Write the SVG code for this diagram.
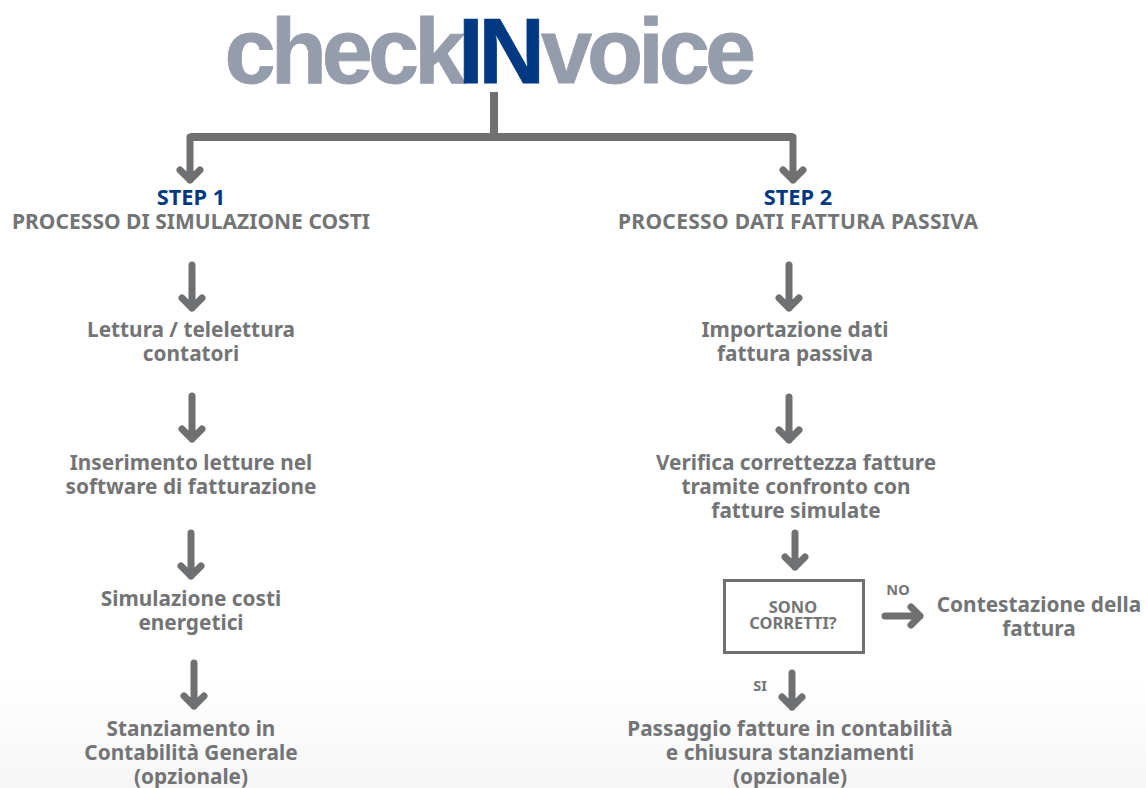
<svg xmlns="http://www.w3.org/2000/svg" width="1146" height="788" viewBox="0 0 1146 788">
<style>
text{font-family:"Noto Sans","Open Sans","Liberation Sans",sans-serif;font-weight:700;text-anchor:middle;fill:#737476}
.m{font-size:20.8px}
.s{font-size:16.4px}
.l{font-size:14.5px}
.h{font-size:21px}
.st{fill:#003882;font-size:21.8px}
.logo{font-family:"Liberation Sans",Arial,sans-serif;font-size:92px;text-anchor:start;fill:#959cab;stroke:#959cab;stroke-width:.8px;letter-spacing:-5px}
.in{fill:#003882;stroke:#003882}
.a{fill:none;stroke:#6f7072;stroke-width:7;stroke-linecap:round;stroke-linejoin:round}
</style>
<defs>
<linearGradient id="bg" x1="0" y1="0" x2="0" y2="1"><stop offset="0" stop-color="#ffffff"/><stop offset="1" stop-color="#f6f6f6"/></linearGradient>
<path id="d" d="M0,0V43M-10,33L0,43L10,33"/>
<path id="ds" d="M0,0V34M-10,24L0,34L10,24"/>
</defs>
<rect x="0" y="680" width="1146" height="108" fill="url(#bg)"/>
<g id="logo">
<text class="logo" x="224.5" y="83">check<tspan class="in" dx="-2.5">IN</tspan><tspan dx="1">voice</tspan></text>
</g>
<g id="connectors">
<path d="M494,92V137M190,137H793" fill="none" stroke="#6f7072" stroke-width="8"/>
<path d="M190,137V180M180,170L190,180L200,170M793,137V180M783,170L793,180L803,170" class="a"/>
<use href="#d" x="192" y="265" class="a"/>
<use href="#d" x="192" y="396" class="a"/>
<use href="#d" x="191" y="533" class="a"/>
<use href="#d" x="194" y="663" class="a"/>
<use href="#d" x="789" y="265" class="a"/>
<use href="#d" x="789" y="397" class="a"/>
<use href="#ds" x="795" y="533" class="a"/>
<use href="#ds" x="792" y="673" class="a"/>
<path d="M885,616H920M911,607L920,616L911,625" class="a"/>
</g>
<g id="step1"><text class="st" x="191" y="205">STEP 1</text><text class="h" x="191" y="229" textLength="358">PROCESSO DI SIMULAZIONE COSTI</text></g>
<g id="step2"><text class="st" x="798" y="205">STEP 2</text><text class="h" x="798" y="229" textLength="360">PROCESSO DATI FATTURA PASSIVA</text></g>
<g id="n1"><text class="m" x="191" y="337">Lettura / telelettura</text><text class="m" x="191" y="361">contatori</text></g>
<g id="n2"><text class="m" x="191" y="470">Inserimento letture nel</text><text class="m" x="191" y="494">software di fatturazione</text></g>
<g id="n3"><text class="m" x="191" y="606">Simulazione costi</text><text class="m" x="191" y="630">energetici</text></g>
<g id="n4"><text class="m" x="191" y="736">Stanziamento in</text><text class="m" x="191" y="760">Contabilità Generale</text><text class="m" x="191" y="784">(opzionale)</text></g>
<g id="n5"><text class="m" x="795" y="337">Importazione dati</text><text class="m" x="795" y="361">fattura passiva</text></g>
<g id="n6"><text class="m" x="796" y="470">Verifica correttezza fatture</text><text class="m" x="796" y="494">tramite confronto con</text><text class="m" x="796" y="518">fatture simulate</text></g>
<g id="decision"><rect x="724.5" y="580.5" width="139" height="72" fill="none" stroke="#6f7072" stroke-width="3"/><text class="s" x="793" y="613">SONO</text><text class="s" x="793" y="629">CORRETTI?</text></g>
<g id="no"><text class="l" x="898" y="595">NO</text></g>
<g id="si"><text class="l" x="760" y="691">SI</text></g>
<g id="n7"><text class="m" x="1039" y="612">Contestazione della</text><text class="m" x="1039" y="636">fattura</text></g>
<g id="n8"><text class="m" x="790" y="736">Passaggio fatture in contabilità</text><text class="m" x="790" y="760">e chiusura stanziamenti</text><text class="m" x="790" y="784">(opzionale)</text></g>
</svg>
